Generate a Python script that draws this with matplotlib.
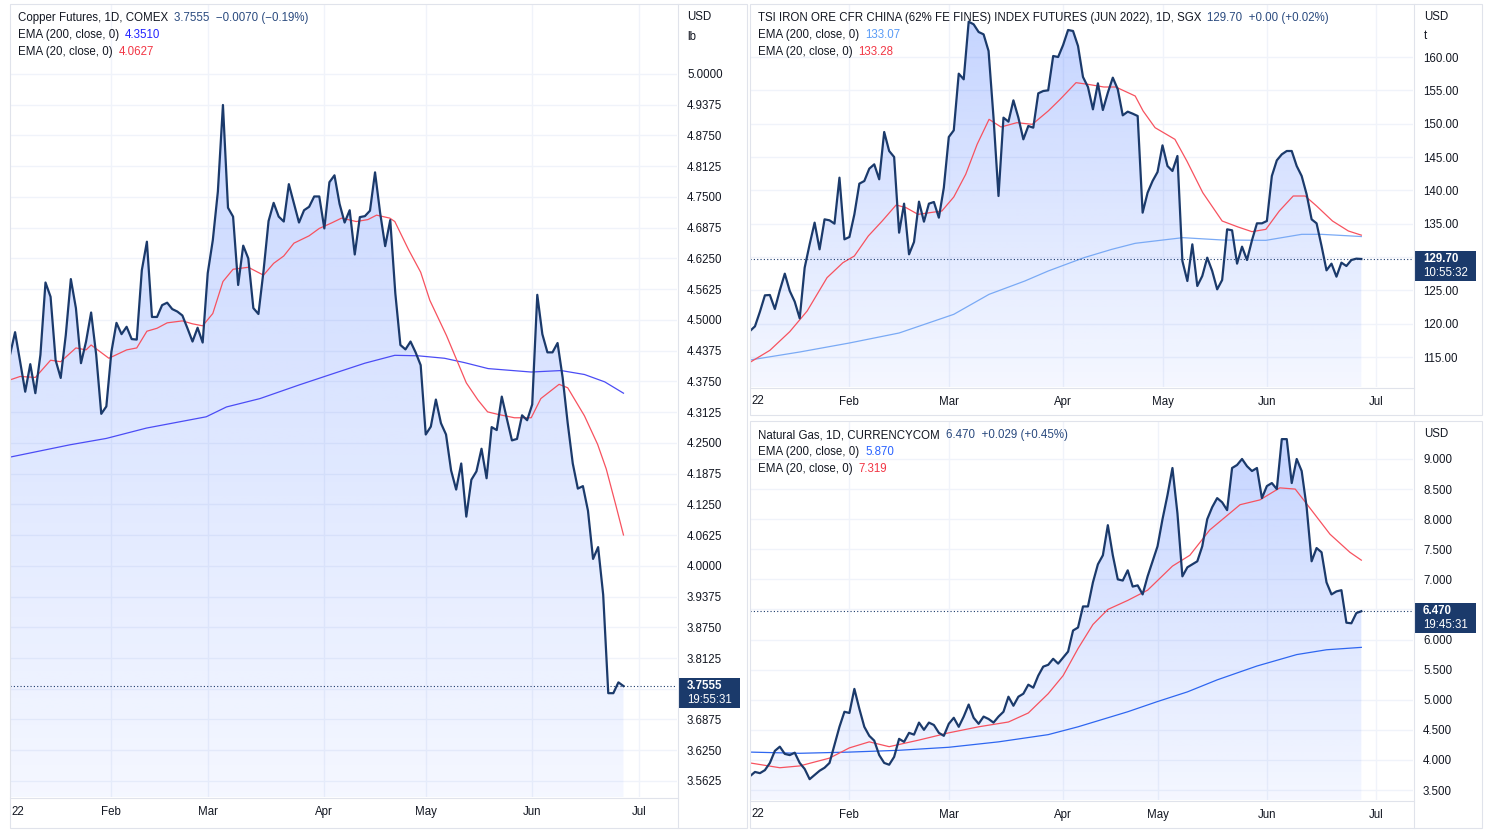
import numpy as np
import matplotlib
matplotlib.use("Agg")
import matplotlib.pyplot as plt
from matplotlib.patches import Rectangle, Polygon

plt.rcParams['font.family'] = ['Liberation Sans', 'DejaVu Sans']

# ============================================================
# DATA  (daily closes, bar index = trading day)
# ============================================================

months = ["Feb", "Mar", "Apr", "May", "Jun", "Jul"]

# --- Copper Futures, COMEX (USD / lb)
copper_close = [
    4.429, 4.475, 4.415, 4.354, 4.410, 4.351, 4.429, 4.576, 4.547, 4.418,
    4.382, 4.469, 4.583, 4.524, 4.412, 4.456, 4.515, 4.429, 4.309, 4.324,
    4.435, 4.494, 4.471, 4.486, 4.461, 4.460, 4.601, 4.659, 4.506, 4.506,
    4.530, 4.535, 4.522, 4.517, 4.509, 4.483, 4.456, 4.484, 4.454, 4.595,
    4.662, 4.761, 4.937, 4.728, 4.710, 4.571, 4.651, 4.625, 4.524, 4.512,
    4.599, 4.701, 4.738, 4.710, 4.700, 4.776, 4.737, 4.698, 4.723, 4.730,
    4.751, 4.751, 4.686, 4.780, 4.794, 4.736, 4.698, 4.723, 4.633, 4.709,
    4.711, 4.722, 4.800, 4.718, 4.650, 4.703, 4.554, 4.449, 4.440, 4.456,
    4.434, 4.408, 4.267, 4.283, 4.338, 4.290, 4.267, 4.194, 4.155, 4.208,
    4.100, 4.175, 4.192, 4.238, 4.178, 4.282, 4.276, 4.344, 4.299, 4.255,
    4.258, 4.306, 4.296, 4.328, 4.551, 4.471, 4.434, 4.434, 4.453, 4.383,
    4.290, 4.208, 4.157, 4.162, 4.112, 4.014, 4.038, 3.941, 3.741, 3.741,
    3.763, 3.7555,
]
copper_ema20_x = [0, 2, 5, 8, 10, 13, 15, 16, 19.5, 23, 25, 27, 29, 31, 34, 36, 38,
                  40, 42, 44, 47, 50, 52, 54, 56, 59, 61, 63.4, 65.4, 68.3, 70.6,
                  72.3, 74.9, 75.9, 78.6, 81, 82.8, 86.1, 90, 92.3, 94.2, 96.2,
                  99.5, 102.8, 104.7, 108.3, 110, 113.3, 115.9, 117.6, 119.5, 121]
copper_ema20 = [4.378, 4.385, 4.383, 4.418, 4.415, 4.443, 4.439, 4.449, 4.422, 4.439,
                4.443, 4.477, 4.483, 4.494, 4.498, 4.492, 4.488, 4.513, 4.578, 4.603,
                4.607, 4.591, 4.615, 4.630, 4.656, 4.671, 4.686, 4.697, 4.707, 4.700,
                4.704, 4.713, 4.707, 4.700, 4.643, 4.597, 4.540, 4.468, 4.372, 4.337,
                4.313, 4.308, 4.301, 4.301, 4.340, 4.369, 4.362, 4.305, 4.247, 4.197,
                4.123, 4.0627]
copper_ema200_x = [0, 11.8, 19, 26.9, 38.7, 42.7, 49.3, 57.1, 64.4, 70, 75.9, 80.5,
                   85.7, 89.7, 94.3, 102.8, 108.7, 113.3, 117.3, 121]
copper_ema200 = [4.221, 4.246, 4.259, 4.280, 4.303, 4.323, 4.340, 4.368, 4.393, 4.412,
                 4.428, 4.427, 4.422, 4.413, 4.401, 4.394, 4.397, 4.389, 4.374, 4.351]
copper_months = [20, 39, 62, 82, 103, 124]
copper_ticks = [3.5625, 3.625, 3.6875, 3.75, 3.8125, 3.875, 3.9375, 4.0, 4.0625,
                4.125, 4.1875, 4.25, 4.3125, 4.375, 4.4375, 4.5, 4.5625, 4.625,
                4.6875, 4.75, 4.8125, 4.875, 4.9375, 5.0]

# --- TSI Iron Ore CFR China, SGX (USD / t)
iron_close = [
    118.9, 119.6, 121.8, 124.25, 124.3, 122.2, 125.0, 127.5, 124.9, 123.3,
    120.8, 128.4, 131.9, 135.15, 131.15, 135.65, 135.5, 135.0, 141.9, 132.65,
    133.0, 136.4, 141.0, 141.4, 143.25, 143.9, 141.65, 148.75, 145.9, 145.0,
    133.65, 138.0, 130.4, 132.25, 138.3, 135.3, 138.0, 138.25, 135.9, 140.4,
    148.0, 149.0, 157.5, 156.65, 165.3, 164.9, 163.75, 163.4, 160.9, 150.9,
    139.15, 150.9, 150.3, 153.5, 150.9, 147.65, 149.65, 149.4, 154.55, 154.9,
    155.0, 160.15, 160.0, 161.8, 164.05, 163.9, 161.65, 157.0, 155.5, 152.15,
    156.05, 152.05, 154.65, 156.9, 155.15, 151.25, 151.8, 151.5, 151.15, 136.65,
    139.65, 141.4, 142.75, 146.75, 143.65, 142.9, 145.15, 129.4, 126.4, 131.9,
    125.65, 127.15, 129.9, 127.9, 125.15, 126.55, 134.15, 134.0, 129.0, 131.55,
    129.55, 132.5, 135.05, 135.05, 135.4, 142.15, 144.5, 145.4, 145.9, 145.9,
    143.65, 142.15, 139.4, 135.65, 135.05, 131.65, 128.0, 129.0, 127.05, 129.15,
    128.65, 129.55, 129.75, 129.70,
]
iron_ema20_x = [0, 4, 8, 11.5, 15.5, 18.7, 21, 23.8, 26.6, 29.4, 31.4, 33.8, 36.2,
                38.6, 41, 43.4, 45.7, 48.1, 50.5, 53.7, 56.8, 60, 62.4, 65.6, 68,
                71.2, 73.6, 77.5, 79.1, 81.5, 85.5, 87.9, 91.1, 95, 98.2, 101,
                103.8, 106.5, 109.3, 111.7, 114, 117.2, 120.4, 123]
iron_ema20 = [114.2, 116.0, 118.8, 121.9, 126.9, 129.15, 130.15, 133.15, 135.4, 137.8,
              137.4, 136.4, 136.65, 136.9, 139.0, 142.4, 146.9, 150.65, 149.5, 150.15,
              149.9, 151.9, 153.65, 156.15, 155.9, 155.5, 155.5, 154.15, 151.9, 149.4,
              147.65, 144.4, 139.65, 135.4, 134.5, 133.8, 134.15, 136.9, 139.15, 139.15,
              137.65, 135.4, 133.9, 133.28]
iron_ema200_x = [0, 10, 20, 30, 41, 48.1, 55.3, 60, 67.2, 72.8, 77.5, 83.1, 87.1, 95,
                 103.8, 111, 115, 123]
iron_ema200 = [114.55, 115.75, 117.1, 118.6, 121.4, 124.4, 126.4, 127.9, 129.9, 131.15,
               132.05, 132.55, 132.9, 132.55, 132.5, 133.4, 133.4, 133.07]
iron_months = [20, 40, 63, 83, 104, 126]
iron_ticks = [115, 120, 125, 130, 135, 140, 145, 150, 155, 160]

# --- Natural Gas, CURRENCYCOM (USD)
gas_close = [
    3.73, 3.80, 3.78, 3.83, 3.95, 4.15, 4.22, 4.10, 4.08, 4.12,
    3.95, 3.85, 3.68, 3.75, 3.82, 3.87, 3.95, 4.25, 4.55, 4.80,
    4.78, 5.18, 4.85, 4.55, 4.40, 4.32, 4.08, 3.95, 3.92, 4.05,
    4.35, 4.30, 4.45, 4.42, 4.62, 4.50, 4.62, 4.58, 4.45, 4.40,
    4.60, 4.70, 4.55, 4.72, 4.92, 4.70, 4.60, 4.72, 4.68, 4.62,
    4.72, 4.80, 5.05, 4.90, 5.05, 5.10, 5.25, 5.20, 5.40, 5.55,
    5.58, 5.68, 5.60, 5.70, 5.80, 6.15, 6.20, 6.55, 6.55, 6.95,
    7.25, 7.40, 7.90, 7.40, 7.00, 6.98, 7.15, 6.88, 6.90, 6.75,
    7.05, 7.30, 7.55, 8.00, 8.40, 8.85, 8.10, 7.05, 7.20, 7.25,
    7.30, 7.55, 8.00, 8.20, 8.35, 8.28, 8.15, 8.85, 8.90, 9.00,
    8.88, 8.80, 8.85, 8.35, 8.55, 8.60, 8.50, 9.33, 9.33, 8.60,
    9.00, 8.80, 8.20, 7.30, 7.52, 7.45, 6.95, 6.75, 6.80, 6.82,
    6.28, 6.27, 6.44, 6.47,
]
gas_ema20_x = [0, 6, 10, 16, 20, 24, 28, 34, 40, 46, 52, 56, 60, 63, 66, 69, 72, 76,
               80, 85, 88.5, 92.5, 98.6, 102.6, 106.6, 109.7, 112.7, 116.7, 120.7, 123]
gas_ema20 = [3.95, 3.87, 3.90, 4.03, 4.20, 4.30, 4.22, 4.33, 4.45, 4.55, 4.63, 4.78,
             5.10, 5.40, 5.85, 6.25, 6.50, 6.65, 6.82, 7.22, 7.40, 7.82, 8.24, 8.32,
             8.52, 8.50, 8.18, 7.75, 7.45, 7.319]
gas_ema200_x = [0, 10, 20, 30, 40, 50, 60, 66, 70, 76, 82, 88, 94, 102, 110, 116, 123]
gas_ema200 = [4.13, 4.11, 4.13, 4.16, 4.21, 4.30, 4.42, 4.55, 4.65, 4.80, 4.97, 5.13,
              5.33, 5.56, 5.75, 5.83, 5.87]
gas_months = [20, 40, 63, 82, 104, 126]
gas_ticks = [3.5, 4.0, 4.5, 5.0, 5.5, 6.0, 6.5, 7.0, 7.5, 8.0, 8.5, 9.0]

# ============================================================
# STYLE
# ============================================================

W, H = 1490, 830
LINE = "#1b3a6b"
RED = "#f7525f"
TXT = "#131722"
GRID = "#f0f3fa"
BORDER = "#e0e3eb"
FS = 8.3
TAG_UP, TAG_DOWN = 8.5, 21.5   # tag box extends this far above / below the price

fig = plt.figure(figsize=(W / 100, H / 100), dpi=100)
fig.patch.set_facecolor("white")


def draw_panel(box, px_bar, close, e20x, e20, e200x, e200, c200, ylim, ticks, fmt, month_idx):
    x0, y0, x1, y1 = box
    ax = fig.add_axes([x0 / W, 1 - y1 / H, (x1 - x0) / W, (y1 - y0) / H])
    ax.patch.set_alpha(0)
    ax.set_xlim(0, (x1 - x0) / px_bar)
    ax.set_ylim(*ylim)
    for s in ax.spines.values():
        s.set_visible(False)

    # price labels hidden behind the last-price tag are left blank
    ppu = (y1 - y0) / (ylim[1] - ylim[0])
    labels = []
    for t in ticks:
        dy = (close[-1] - t) * ppu      # + means tick lies below the price
        labels.append("" if -TAG_UP - 6 < dy < TAG_DOWN + 6 else fmt.format(t))

    ax.set_yticks(ticks)
    ax.set_yticklabels(labels)
    ax.yaxis.tick_right()
    ax.set_xticks(month_idx)
    ax.set_xticklabels(months)
    ax.tick_params(axis="y", length=0, pad=7.2, labelsize=FS, labelcolor=TXT)
    ax.tick_params(axis="x", length=0, pad=6.5, labelsize=FS, labelcolor=TXT)
    ax.grid(True, color=GRID, lw=1, zorder=0)
    ax.set_axisbelow(True)

    xs = np.arange(len(close))
    ys = np.array(close)

    # gradient area under the price line
    n = 256
    rgba = np.zeros((n, 1, 4))
    rgba[..., 0] = 41 / 255
    rgba[..., 1] = 98 / 255
    rgba[..., 2] = 1.0
    rgba[:, 0, 3] = np.linspace(0.28, 0.05, n)
    xl, yl = ax.get_xlim(), ax.get_ylim()
    im = ax.imshow(rgba, extent=[xl[0], xl[1], yl[0], yl[1]], origin="upper",
                   aspect="auto", zorder=1, interpolation="bilinear")
    poly = Polygon(np.column_stack([np.r_[xs, xs[-1], xs[0]], np.r_[ys, yl[0], yl[0]]]),
                   closed=True, facecolor="none", edgecolor="none", transform=ax.transData)
    ax.add_patch(poly)
    im.set_clip_path(poly)
    ax.set_xlim(xl)
    ax.set_ylim(yl)

    ax.plot(e200x, e200, color=c200, lw=0.9, zorder=2)
    ax.plot(e20x, e20, color=RED, lw=0.9, zorder=2)
    ax.plot(xs, ys, color=LINE, lw=1.6, zorder=3, solid_joinstyle="round")
    ax.axhline(ys[-1], color=LINE, lw=0.8, ls=(0, (1, 2)), zorder=2)
    return ax


ax_cu = draw_panel((10, 5, 677, 797), 5.07, copper_close, copper_ema20_x, copper_ema20,
                   copper_ema200_x, copper_ema200, "#4b4cf5", (3.5299, 5.1403),
                   copper_ticks, "{:.4f}", copper_months)
ax_fe = draw_panel((750, 5, 1413, 387), 4.97, iron_close, iron_ema20_x, iron_ema20,
                   iron_ema200_x, iron_ema200, "#7aaaf5", (110.5, 167.8),
                   iron_ticks, "{:.2f}", iron_months)
ax_ng = draw_panel((750, 421, 1413, 800), 4.97, gas_close, gas_ema20_x, gas_ema20,
                   gas_ema200_x, gas_ema200, "#2e66f0", (3.334, 9.631),
                   gas_ticks, "{:.3f}", gas_months)

# overlay in pixel coordinates for frames, legends and price tags
fr = fig.add_axes([0, 0, 1, 1], zorder=10)
fr.set_xlim(0, W)
fr.set_ylim(H, 0)
fr.axis("off")
fr.patch.set_alpha(0)

for (bx0, by0, bx1, by1, sx, sy) in [(9.5, 4.5, 746.5, 827.5, 677.5, 797.5),
                                     (749.5, 4.5, 1481.5, 414.5, 1413.5, 387.5),
                                     (749.5, 420.5, 1481.5, 827.5, 1413.5, 800.5)]:
    fr.add_patch(Rectangle((bx0, by0), bx1 - bx0, by1 - by0, fill=False,
                           edgecolor=BORDER, lw=0.8))
    fr.plot([sx, sx], [by0, by1], color=BORDER, lw=0.8)
    fr.plot([bx0, sx], [sy, sy], color=BORDER, lw=0.8)

renderer = fig.canvas.get_renderer()


def legend_row(x, y, parts):
    for s, c in parts:
        t = fr.text(x, y, s, color=c, fontsize=FS, va="center", ha="left")
        x += t.get_window_extent(renderer=renderer).width + 6


NAVY = "#2a4a7f"
legend_row(18, 18, [("Copper Futures, 1D, COMEX", TXT), ("3.7555  \u22120.0070 (\u22120.19%)", NAVY)])
legend_row(18, 35, [("EMA (200, close, 0)", TXT), ("4.3510", "#2424ff")])
legend_row(18, 52, [("EMA (20, close, 0)", TXT), ("4.0627", "#f23645")])

legend_row(758, 18, [("TSI IRON ORE CFR CHINA (62% FE FINES) INDEX FUTURES (JUN 2022), 1D, SGX", TXT),
                     ("129.70  +0.00 (+0.02%)", NAVY)])
legend_row(758, 35, [("EMA (200, close, 0)", TXT), ("133.07", "#5b9cf6")])
legend_row(758, 52, [("EMA (20, close, 0)", TXT), ("133.28", "#f23645")])

legend_row(758, 435, [("Natural Gas, 1D, CURRENCYCOM", TXT), ("6.470  +0.029 (+0.45%)", NAVY)])
legend_row(758, 452, [("EMA (200, close, 0)", TXT), ("5.870", "#2962ff")])
legend_row(758, 469, [("EMA (20, close, 0)", TXT), ("7.319", "#f23645")])

# currency / unit labels on the price scales
for x, y, s in [(687, 17, "USD"), (687, 37, "lb"), (1424, 17, "USD"), (1424, 36, "t"),
                (1424, 434, "USD")]:
    fr.text(x, y, s, color=TXT, fontsize=FS, va="center", ha="left")

# clipped "2022" year label at the left edge of each time scale
for x, y in [(11, 812), (751, 401), (751, 814)]:
    fr.text(x, y, "22", color=TXT, fontsize=FS, va="center", ha="left")

# last price tags
for ax, close, fmt, timer, tx in [(ax_cu, copper_close, "{:.4f}", "19:55:31", 678),
                                  (ax_fe, iron_close, "{:.2f}", "10:55:32", 1414),
                                  (ax_ng, gas_close, "{:.3f}", "19:45:31", 1414)]:
    py = H - ax.transData.transform((0, close[-1]))[1]
    fr.add_patch(Rectangle((tx, py - TAG_UP), 62, TAG_UP + TAG_DOWN,
                           facecolor=LINE, edgecolor="none"))
    fr.text(tx + 9, py, fmt.format(close[-1]), color="white", fontsize=FS,
            fontweight="bold", va="center", ha="left")
    fr.text(tx + 9, py + 14, timer, color="white", fontsize=FS, va="center", ha="left")

fig.savefig("out.png", dpi=100, facecolor="white")
